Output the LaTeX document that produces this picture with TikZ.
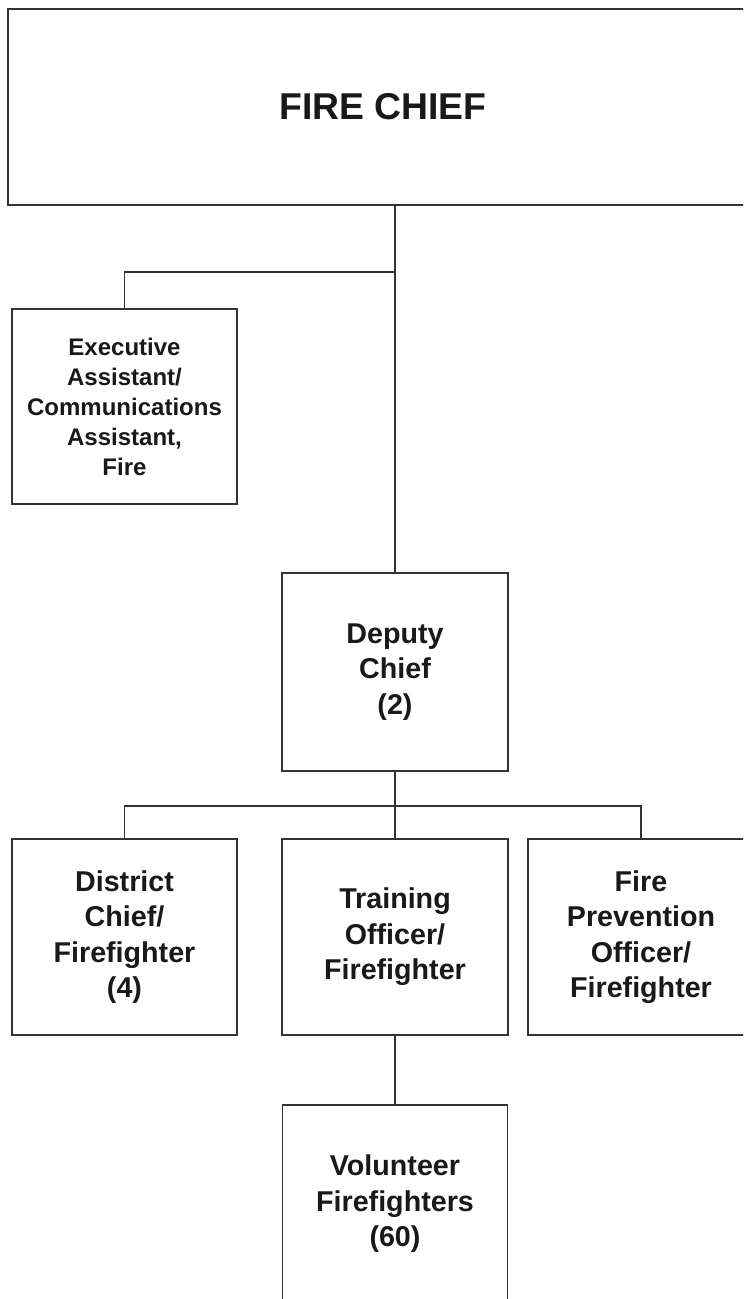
\documentclass[tikz,border=0pt]{standalone}
\usepackage{fontspec}
\setmainfont{Liberation Sans}
\begin{document}
\begin{tikzpicture}[x=0.75pt,y=-0.75pt,
  box/.style={draw=black!80,line width=1.4pt,fill=white,inner sep=0pt,align=center,
    font=\bfseries\fontsize{21.5pt}{26.6pt}\selectfont,text=black!90},
  conn/.style={draw=black!80,line width=1.4pt}]
\useasboundingbox (0,0) rectangle (743,1299);
\clip (0,0) rectangle (743,1299);
\node[box,minimum width=750*0.75pt,minimum height=196*0.75pt,font=\bfseries\fontsize{28pt}{33pt}\selectfont] (chief) at (383,107) {FIRE CHIEF};
\node[box,minimum width=225*0.75pt,minimum height=195*0.75pt,font=\bfseries\fontsize{18pt}{22.5pt}\selectfont] (exec) at (124.5,406.5) {Executive\\Assistant/\\Communications\\Assistant,\\Fire};
\node[box,minimum width=226*0.75pt,minimum height=198*0.75pt] (deputy) at (395,672) {Deputy\\Chief\\(2)};
\node[box,minimum width=225*0.75pt,minimum height=196*0.75pt] (district) at (124.5,937) {District\\Chief/\\Firefighter\\(4)};
\node[box,minimum width=226*0.75pt,minimum height=196*0.75pt] (training) at (395,937) {Training\\Officer/\\Firefighter};
\node[box,minimum width=226*0.75pt,minimum height=196*0.75pt] (prevention) at (641,937) {Fire\\Prevention\\Officer/\\Firefighter};
\node[box,minimum width=225*0.75pt,minimum height=198*0.75pt] (volunteer) at (395,1204) {Volunteer\\Firefighters\\(60)};
\coordinate (j1) at (395,272);
\coordinate (bus) at (395,806);
\draw[conn] (deputy.north) -- (deputy.north |- chief.south);
\draw[conn] (j1) -| (exec.north);
\draw[conn] (deputy.south) -- (bus);
\draw[conn] (district.north) |- (bus) -| (prevention.north);
\draw[conn] (bus) -- (training.north);
\draw[conn] (training.south) -- (volunteer.north);
\end{tikzpicture}
\end{document}
